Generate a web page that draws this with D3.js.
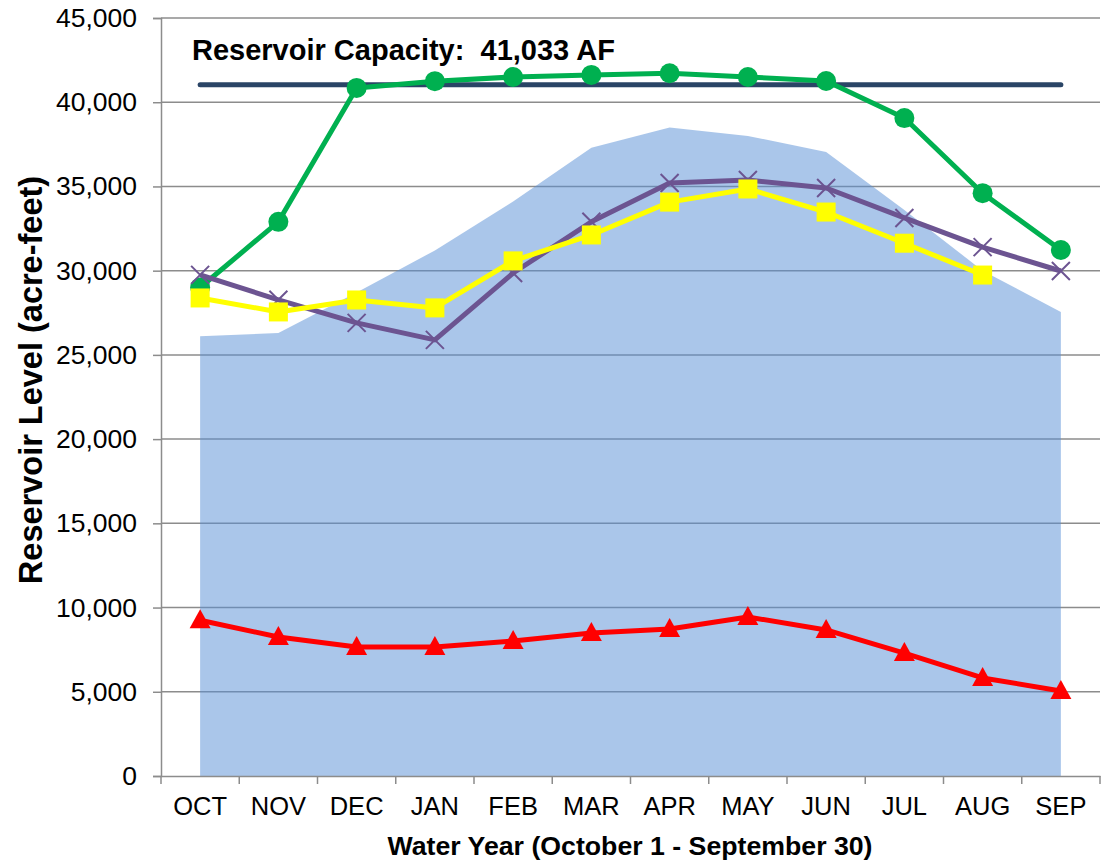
<!DOCTYPE html>
<html>
<head>
<meta charset="utf-8">
<script src="https://cdn.jsdelivr.net/npm/d3@7"></script>
<style>
  body { margin: 0; background: #fff; }
  svg { display: block; font-family: "Liberation Sans", Arial, sans-serif; }
</style>
</head>
<body>
<svg width="1105" height="863"></svg>
<script>
var months = ["OCT", "NOV", "DEC", "JAN", "FEB", "MAR", "APR", "MAY", "JUN", "JUL", "AUG", "SEP"];
var rangeArea = [26100, 26300, 28700, 31200, 34100, 37300, 38500, 38000, 37050, 33600, 30000, 27550];
var greenLevels = [29000, 32900, 40850, 41250, 41500, 41620, 41720, 41500, 41260, 39060, 34600, 31230];
var purpleLevels = [29750, 28270, 26900, 25890, 29860, 32900, 35200, 35380, 34910, 33130, 31400, 29980];
var yellowLevels = [28380, 27550, 28260, 27790, 30580, 32120, 34070, 34850, 33480, 31630, 29740, null];
var redLevels = [9250, 8250, 7660, 7660, 8010, 8490, 8730, 9440, 8670, 7300, 5820, 5050];
var capacity = 41033;
var yTicks = [0, 5000, 10000, 15000, 20000, 25000, 30000, 35000, 40000, 45000];

var svg = d3.select("svg"),
    plotLeft = 161, plotRight = 1100, plotTop = 18, plotBottom = 776;

var x = d3.scaleBand().domain(months).range([plotLeft, plotRight]);
var y = d3.scaleLinear().domain([0, 45000]).range([plotBottom, plotTop]);
var cx = function(m) { return x(m) + x.bandwidth() / 2; };

// gridlines
svg.append("g").selectAll("line")
  .data(yTicks.filter(function(d) { return d > 0; }))
  .enter().append("line")
    .attr("x1", plotLeft).attr("x2", plotRight)
    .attr("y1", function(d) { return y(d); })
    .attr("y2", function(d) { return y(d); })
    .attr("stroke", "#8c8c8c")
    .attr("stroke-width", 1.5);

// shaded range
var area = d3.area()
    .x(function(d, i) { return cx(months[i]); })
    .y0(y(0))
    .y1(function(d) { return y(d); });

svg.append("path")
    .datum(rangeArea)
    .attr("d", area)
    .attr("fill", "#558ED5")
    .attr("fill-opacity", 0.5);

// axes
var yAxis = svg.append("g")
    .attr("transform", "translate(" + plotLeft + ",0)")
    .call(d3.axisLeft(y).tickValues(yTicks).tickSize(8).tickPadding(16).tickFormat(d3.format(",")));
yAxis.select(".domain").attr("stroke", "#8c8c8c").attr("stroke-width", 1.5);
yAxis.selectAll(".tick line").attr("stroke", "#8c8c8c").attr("stroke-width", 1.5);
yAxis.selectAll(".tick text").attr("font-size", "26.5px").attr("fill", "#000").attr("font-family", "Liberation Sans, Arial");

var xAxis = svg.append("g")
    .attr("transform", "translate(0," + plotBottom + ")")
    .call(d3.axisBottom(x).tickSize(0).tickPadding(21));
xAxis.select(".domain").attr("stroke", "#8c8c8c").attr("stroke-width", 1.5);
xAxis.selectAll(".tick text").attr("font-size", "25.5px").attr("fill", "#000").attr("font-family", "Liberation Sans, Arial");

xAxis.append("g").selectAll("line")
  .data(months.map(function(m) { return x(m); }).concat([plotRight]))
  .enter().append("line")
    .attr("x1", function(d) { return d; }).attr("x2", function(d) { return d; })
    .attr("y1", 0).attr("y2", 8)
    .attr("stroke", "#8c8c8c")
    .attr("stroke-width", 1.5);

// capacity line
svg.append("line")
    .attr("x1", cx(months[0])).attr("x2", cx(months[months.length - 1]))
    .attr("y1", y(capacity)).attr("y2", y(capacity))
    .attr("stroke", "#2A4566")
    .attr("stroke-width", 5)
    .attr("stroke-linecap", "round");

svg.append("text")
    .attr("x", 192).attr("y", 60)
    .attr("font-size", "29px")
    .attr("font-weight", "bold")
    .style("white-space", "pre")
    .text("Reservoir Capacity:  " + d3.format(",")(capacity) + " AF");

var line = d3.line()
    .defined(function(d) { return d != null; })
    .x(function(d, i) { return cx(months[i]); })
    .y(function(d) { return y(d); });

function series(values, color) {
  svg.append("path")
      .datum(values)
      .attr("d", line)
      .attr("fill", "none")
      .attr("stroke", color)
      .attr("stroke-width", 5)
      .attr("stroke-linejoin", "round");
  return svg.append("g").selectAll("g")
    .data(values.map(function(v, i) { return {m: months[i], v: v}; })
      .filter(function(d) { return d.v != null; }))
    .enter().append("g")
      .attr("transform", function(d) { return "translate(" + cx(d.m) + "," + y(d.v) + ")"; });
}

// red triangles
series(redLevels, "#FF0000").append("path")
    .attr("d", "M0,-11L10.5,8L-10.5,8Z")
    .attr("fill", "#FF0000");

// green circles
series(greenLevels, "#00B050").append("circle")
    .attr("r", 10)
    .attr("fill", "#00B050");

// purple crosses
series(purpleLevels, "#6C5491").append("path")
    .attr("d", "M-9,-9L9,9M-9,9L9,-9")
    .attr("stroke", "#6C5491")
    .attr("stroke-width", 2);

// yellow squares
series(yellowLevels, "#FFFF00").append("rect")
    .attr("x", -9.5).attr("y", -9.5)
    .attr("width", 19).attr("height", 19)
    .attr("fill", "#FFFF00");

// titles
svg.append("text")
    .attr("transform", "translate(42,380) rotate(-90)")
    .attr("text-anchor", "middle")
    .attr("font-size", "32.5px")
    .attr("font-weight", "bold")
    .text("Reservoir Level (acre-feet)");

svg.append("text")
    .attr("x", 630).attr("y", 855)
    .attr("text-anchor", "middle")
    .attr("font-size", "26.7px")
    .attr("font-weight", "bold")
    .text("Water Year (October 1 - September 30)");
</script>
</body>
</html>
